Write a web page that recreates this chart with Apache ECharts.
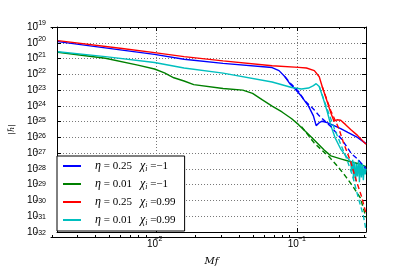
<!DOCTYPE html>
<html><head><meta charset="utf-8">
<script src="https://cdn.jsdelivr.net/npm/echarts@6/dist/echarts.min.js"></script>
<style>html,body{margin:0;padding:0;background:#fff}#c{width:407px;height:271px}</style>
</head><body><div id="c"></div>
<script>
// ---- data (Mf, |h~|) ----
const xMin = 0.00197, xMax = 0.307;
const yMinExp = -32, yMaxExp = -19;
const xMajorTicks = [0.01, 0.1];
const xMinorTicks = [0.002,0.003,0.004,0.005,0.006,0.007,0.008,0.009,0.02,0.03,0.04,0.05,0.06,0.07,0.08,0.09,0.2,0.3];

const seriesNames = ['b', 'g', 'r', 'c'];
const legendEta = ['0.25', '0.01', '0.25', '0.01'];
const legendChi = ['−1', '−1', '0.99', '0.99'];
const colors = ['#0000ff', '#008000', '#ff0000', '#00bfbf'];

const blueF = [0.002, 0.00571, 0.00969, 0.0157, 0.0297, 0.0662, 0.0741, 0.0817, 0.0884, 0.0957, 0.107, 0.120, 0.130, 0.136, 0.143, 0.150, 0.1625, 0.182, 0.203, 0.228, 0.267, 0.307];
const blueH = [1.18e-20, 3.41e-21, 1.85e-21, 9.05e-22, 4.90e-22, 2.69e-22, 1.71e-22, 6.95e-23, 2.56e-23, 1.26e-23, 4.02e-24, 9.65e-25, 2.32e-25, 5.57e-26, 8.55e-26, 1.06e-25, 8.55e-26, 5.57e-26, 3.63e-26, 2.06e-26, 1.01e-26, 3.99e-27];

const greenF = [0.002, 0.00434, 0.00738, 0.00969, 0.0114, 0.0133, 0.0157, 0.0184, 0.0297, 0.0410, 0.0481, 0.0565, 0.0662, 0.0778, 0.0912, 0.102, 0.126, 0.155, 0.173, 0.203, 0.239, 0.272, 0.307];
const greenH = [2.52e-21, 1.04e-21, 3.85e-22, 2.17e-22, 1.23e-22, 6.03e-23, 3.77e-23, 2.22e-23, 1.26e-23, 9.86e-24, 6.15e-24, 2.37e-24, 9.65e-25, 4.10e-25, 1.51e-25, 6.43e-26, 1.01e-26, 1.58e-27, 6.71e-28, 4.38e-28, 2.85e-28, 2.14e-28, 1.40e-28];

const redF = [0.002, 0.00571, 0.00969, 0.0157, 0.0297, 0.0662, 0.102, 0.116, 0.132, 0.143, 0.150, 0.1625, 0.173, 0.182, 0.191, 0.203, 0.220, 0.239, 0.267, 0.307];
const redH = [1.36e-20, 4.35e-21, 2.36e-21, 1.33e-21, 7.10e-22, 3.48e-22, 2.77e-22, 2.51e-22, 1.71e-22, 6.95e-23, 1.67e-23, 1.97e-24, 3.56e-25, 1.06e-25, 1.31e-25, 1.22e-25, 6.43e-26, 3.15e-26, 1.34e-26, 3.71e-27];

const cyanF = [0.002, 0.00434, 0.00969, 0.0157, 0.0297, 0.0662, 0.0912, 0.107, 0.120, 0.130, 0.136, 0.143, 0.1524, 0.1625, 0.173, 0.1847, 0.203, 0.2239, 0.239, 0.2425, 0.247, 0.2504, 0.2545, 0.259, 0.2628, 0.267, 0.272, 0.2757, 0.280, 0.2847, 0.289, 0.294, 0.2987, 0.303, 0.307];
const cyanH = [2.71e-21, 1.33e-21, 5.65e-22, 2.51e-22, 1.18e-22, 3.27e-23, 1.45e-23, 1.17e-23, 1.35e-23, 1.93e-23, 2.56e-23, 1.67e-23, 3.02e-24, 4.73e-25, 5.57e-26, 1.01e-26, 1.82e-27, 5.82e-28, 2.85e-28, 6.86e-29, 3.79e-28, 2.52e-29, 2.85e-28, 1.65e-29, 2.14e-28, 3.36e-29, 3.79e-28, 1.43e-29, 2.47e-28, 2.91e-29, 2.14e-28, 1.90e-29, 1.61e-28, 4.47e-29, 1.05e-28];

const blueDashF = [0.0817, 0.0912, 0.102, 0.112, 0.132, 0.143, 0.173, 0.2066, 0.2425, 0.267, 0.294, 0.307];
const blueDashH = [6.95e-23, 2.22e-23, 8.18e-24, 2.27e-24, 5.46e-25, 2.32e-25, 4.83e-26, 7.57e-27, 8.92e-28, 4.38e-28, 1.61e-28, 1.05e-28];

const greenDashF = [0.107, 0.132, 0.168, 0.194, 0.220, 0.247, 0.280, 0.307];
const greenDashH = [4.83e-26, 4.28e-27, 5.82e-28, 1.40e-28, 3.36e-29, 8.07e-30, 1.46e-30, 8.43e-32];

const redDashF = [0.150, 0.173, 0.197, 0.213, 0.239, 0.2628, 0.2847, 0.307];
const redDashH = [1.67e-23, 4.73e-25, 3.63e-26, 4.28e-27, 2.85e-28, 1.65e-29, 1.94e-30, 1.49e-31];

const cyanDashF = [0.143, 0.160, 0.182, 0.203, 0.2239, 0.247, 0.272, 0.294, 0.307];
const cyanDashH = [1.67e-23, 9.65e-25, 4.19e-26, 3.71e-27, 4.38e-28, 3.36e-29, 1.26e-30, 1.12e-31, 1.32e-32];

// ---- build ----
const L = Math.log10;
const pairs = (f, h) => f.map((v, i) => [L(v), L(h[i])]);
const expTxt = n => String(Math.round(n)).replace('-', '−');
const baseStyle = {fontFamily: 'Liberation Sans', fontSize: 10, color: '#000'};
const supStyle = {fontFamily: 'Liberation Sans', fontSize: 7, color: '#000'};
const frame = {show: true, onZero: false, lineStyle: {color: '#000', width: 1}};
const noLine = {show: false, onZero: false};
const dotted = {show: true, lineStyle: {color: '#777', width: 1, type: [1, 2]}};
const tickSt = {color: '#000', width: 1};

const solidSets = [[blueF, blueH], [greenF, greenH], [redF, redH], [cyanF, cyanH]];
const dashSets = [[blueDashF, blueDashH], [greenDashF, greenDashH], [redDashF, redDashH], [cyanDashF, cyanDashH]];

const series = [];
solidSets.forEach((s, i) => series.push({
  name: seriesNames[i], type: 'line', xAxisIndex: 0, yAxisIndex: 0,
  data: pairs(s[0], s[1]), symbol: 'none', showSymbol: false,
  lineStyle: {color: colors[i], width: 1.4}, itemStyle: {color: colors[i]}, z: 3
}));
dashSets.forEach((s, i) => series.push({
  name: seriesNames[i] + '_model', type: 'line', xAxisIndex: 0, yAxisIndex: 0,
  data: pairs(s[0], s[1]), symbol: 'none', showSymbol: false,
  lineStyle: {color: colors[i], width: 1.4, type: [5, 3]}, z: 3
}));

const legendLabel = {};
seriesNames.forEach((n, i) => {
  legendLabel[n] = '{p|}{g|η}{t| = ' + legendEta[i] + '}{sp|}{g|χ}{i|i}{t| =' + legendChi[i] + '}';
});

const ax = (extra) => Object.assign({
  type: 'value', axisLine: frame, axisLabel: {show: false}, splitLine: {show: false},
  axisTick: {show: false}
}, extra);

const xr = {min: L(xMin), max: L(xMax)};
const yr = {min: yMinExp, max: yMaxExp, interval: 1};
const g = {left: 51, top: 27, right: 41, bottom: 34};

const option = {
  animation: false,
  backgroundColor: '#fff',
  grid: [Object.assign({}, g), Object.assign({}, g), Object.assign({}, g)],
  xAxis: [
    // grid 0: major ticks, base "10" labels, grid lines, name
    ax(Object.assign({gridIndex: 0, position: 'bottom',
      axisTick: {show: true, inside: true, length: 4, customValues: xMajorTicks.map(L), lineStyle: tickSt},
      axisLabel: Object.assign({show: true, customValues: xMajorTicks.map(L), formatter: () => '10',
        margin: 6, align: 'center', padding: [0, 8, 0, 0], lineHeight: 12}, baseStyle),
      splitLine: dotted,
      name: 'Mf', nameLocation: 'middle', nameGap: 24,
      nameTextStyle: {fontFamily: 'DejaVu Serif', fontStyle: 'italic', fontSize: 10, color: '#000'}}, xr)),
    ax(Object.assign({gridIndex: 0, position: 'top',
      axisTick: {show: true, inside: true, length: 4, customValues: xMajorTicks.map(L), lineStyle: tickSt}}, xr)),
    // grid 1: minor ticks
    ax(Object.assign({gridIndex: 1, position: 'bottom',
      axisTick: {show: true, inside: true, length: 2, customValues: xMinorTicks.map(L), lineStyle: tickSt}}, xr)),
    ax(Object.assign({gridIndex: 1, position: 'top',
      axisTick: {show: true, inside: true, length: 2, customValues: xMinorTicks.map(L), lineStyle: tickSt}}, xr)),
    // grid 2: exponent labels
    ax(Object.assign({gridIndex: 2, position: 'bottom', axisLine: noLine,
      axisLabel: Object.assign({show: true, customValues: xMajorTicks.map(L), formatter: v => expTxt(v),
        margin: -2, align: 'center', padding: [0, 0, 0, 12], lineHeight: 8}, supStyle)}, xr))
  ],
  yAxis: [
    ax(Object.assign({gridIndex: 0, position: 'left',
      axisTick: {show: true, inside: true, length: 4, lineStyle: tickSt},
      axisLabel: Object.assign({show: true, formatter: () => '10', margin: 19}, baseStyle),
      splitLine: dotted,
      name: '|h̃|', nameLocation: 'middle', nameGap: 40, nameRotate: 90,
      nameTextStyle: {fontFamily: 'DejaVu Serif', fontStyle: 'italic', fontSize: 8, color: '#000'}}, yr)),
    ax(Object.assign({gridIndex: 0, position: 'right',
      axisTick: {show: true, inside: true, length: 4, lineStyle: tickSt}}, yr)),
    ax(Object.assign({gridIndex: 1, show: false}, yr)),
    ax(Object.assign({gridIndex: 2, position: 'left', axisLine: noLine,
      axisLabel: Object.assign({show: true, formatter: v => expTxt(v), margin: 5, verticalAlign: 'bottom', lineHeight: 8}, supStyle)}, yr))
  ],
  legend: {
    data: seriesNames, orient: 'vertical', left: 57, top: 156,
    backgroundColor: '#fff', borderColor: '#000', borderWidth: 1, borderRadius: 0,
    padding: [3, 9, 4, 6], itemWidth: 18, itemHeight: 2, itemGap: 4, selectedMode: false,
    icon: 'rect',
    formatter: n => legendLabel[n],
    textStyle: {
      color: '#000', lineHeight: 14,
      rich: {
        p: {width: 9},
        sp: {width: 8},
        g: {fontFamily: 'Liberation Serif', fontStyle: 'italic', fontSize: 12, color: '#000'},
        t: {fontFamily: 'Liberation Serif', fontSize: 11, color: '#000'},
        i: {fontFamily: 'Liberation Serif', fontStyle: 'italic', fontSize: 8, color: '#000', verticalAlign: 'bottom', lineHeight: 10}
      }
    },
    z: 10
  },
  series: series
};

const chart = echarts.init(document.getElementById('c'), null, {renderer: 'canvas'});
chart.setOption(option);
</script>
</body></html>
